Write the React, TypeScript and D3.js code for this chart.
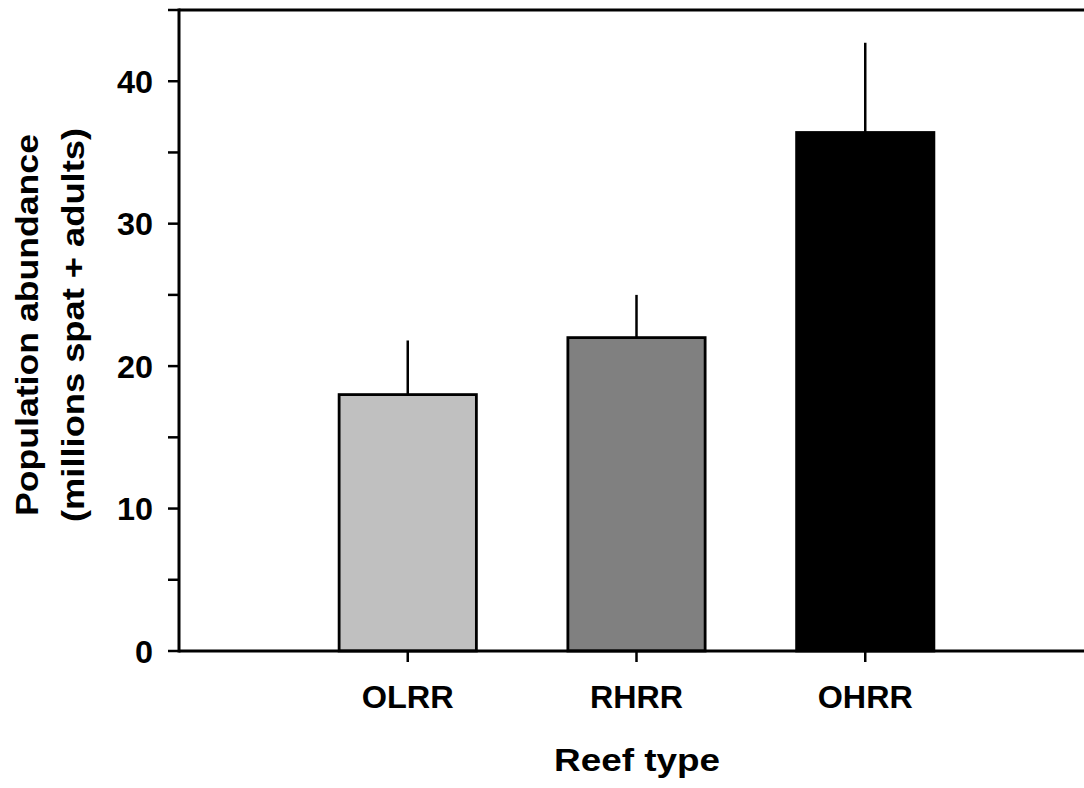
import React from "react";
import * as d3 from "d3";

const categories = ["OLRR", "RHRR", "OHRR"];
const means = [18.0, 22.0, 36.4];
const errorTops = [21.8, 25.0, 42.7];
const barColors = ["#c0c0c0", "#808080", "#000000"];
const yTicks = [0, 5, 10, 15, 20, 25, 30, 35, 40, 45];
const yLabels = [0, 10, 20, 30, 40];
const catLabelLengths = [92, 93, 95];

const W = 1084;
const H = 788;

export default function App() {
  const y = d3.scaleLinear().domain([0, 45]).range([651, 10]);
  const x = d3.scaleLinear().domain([0, 4]).range([179, 1094]);
  const step = x(1) - x(0);
  const bw = step * 0.6;
  const font = "'Liberation Sans', Arial, Helvetica, sans-serif";
  const axisX = x(0);
  return (
    <svg
      width={W}
      height={H}
      style={{ position: "absolute", left: 0, top: 0, background: "#fff" }}
      fontFamily={font}
      fontWeight="bold"
    >
      {categories.map((c, i) => (
        <g key={c}>
          <line
            x1={x(i + 1)}
            x2={x(i + 1)}
            y1={y(means[i])}
            y2={y(errorTops[i])}
            stroke="#000"
            strokeWidth={2.5}
          />
          <rect
            x={x(i + 1) - bw / 2}
            y={y(means[i])}
            width={bw}
            height={y(0) - y(means[i])}
            fill={barColors[i]}
            stroke="#000"
            strokeWidth={2.8}
          />
          <line
            x1={x(i + 1)}
            x2={x(i + 1)}
            y1={y(0)}
            y2={y(0) + 11}
            stroke="#000"
            strokeWidth={2.5}
          />
          <text
            x={x(i + 1)}
            y={708}
            textAnchor="middle"
            fontSize={32}
            textLength={catLabelLengths[i]}
            lengthAdjust="spacingAndGlyphs"
          >
            {c}
          </text>
        </g>
      ))}
      <line x1={axisX} x2={W} y1={y(45)} y2={y(45)} stroke="#000" strokeWidth={3} />
      <line x1={axisX} x2={W} y1={y(0)} y2={y(0)} stroke="#000" strokeWidth={3} />
      <line x1={axisX} x2={axisX} y1={y(45) - 1.5} y2={y(0) + 1.5} stroke="#000" strokeWidth={3} />
      {yTicks.map((t) => (
        <line
          key={t}
          x1={axisX - 11}
          x2={axisX}
          y1={y(t)}
          y2={y(t)}
          stroke="#000"
          strokeWidth={2.5}
        />
      ))}
      {yLabels.map((t) => (
        <text
          key={t}
          x={153}
          y={y(t)}
          dy="0.36em"
          textAnchor="end"
          fontSize={32}
          textLength={t === 0 ? 18 : 36}
          lengthAdjust="spacingAndGlyphs"
        >
          {t}
        </text>
      ))}
      <text
        x={637}
        y={771}
        textAnchor="middle"
        fontSize={32}
        textLength={166}
        lengthAdjust="spacingAndGlyphs"
      >
        Reef type
      </text>
      <g transform={`translate(0, 325) rotate(-90)`}>
        <text
          x={0}
          y={38}
          textAnchor="middle"
          fontSize={32}
          textLength={382}
          lengthAdjust="spacingAndGlyphs"
        >
          Population abundance
        </text>
        <text
          x={0}
          y={84}
          textAnchor="middle"
          fontSize={32}
          textLength={394}
          lengthAdjust="spacingAndGlyphs"
        >
          (millions spat + adults)
        </text>
      </g>
    </svg>
  );
}
